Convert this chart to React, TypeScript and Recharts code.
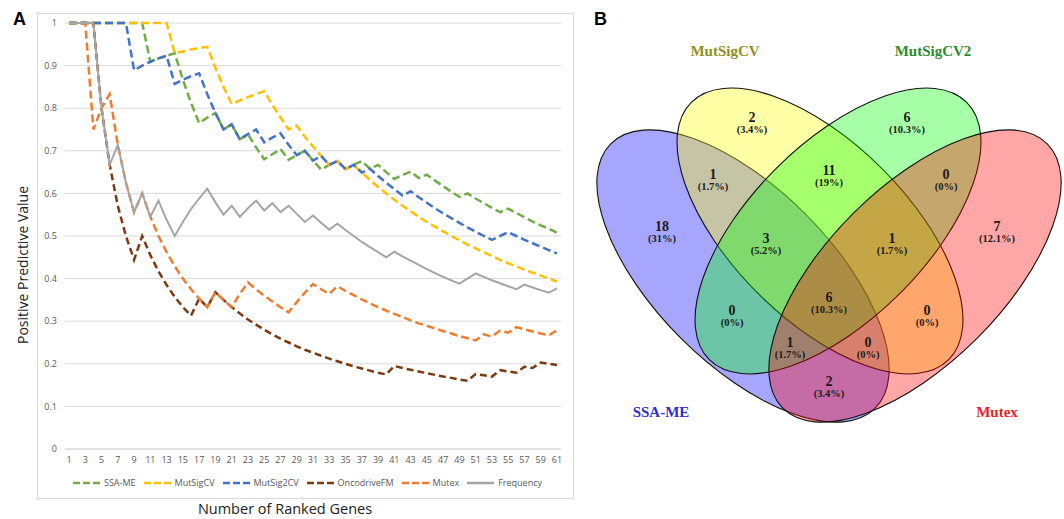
import React from 'react';
import { LineChart, Line, XAxis, YAxis, CartesianGrid, Legend, ScatterChart, Scatter } from 'recharts';

// ---------- Panel A data ----------
const ranks = [1,2,3,4,5,6,7,8,9,10,11,12,13,14,15,16,17,18,19,20,21,22,23,24,25,26,27,28,29,30,31,32,33,34,35,36,37,38,39,40,41,42,43,44,45,46,47,48,49,50,51,52,53,54,55,56,57,58,59,60,61];

const ssaMe = [1,1,1,1,1,1,1,1,1,1,0.909,0.917,0.923,0.929,0.867,0.813,0.765,0.778,0.789,0.75,0.762,0.727,0.739,0.708,0.68,0.692,0.704,0.679,0.69,0.7,0.677,0.656,0.667,0.676,0.657,0.667,0.676,0.658,0.667,0.65,0.634,0.643,0.651,0.636,0.644,0.63,0.617,0.604,0.592,0.6,0.588,0.577,0.566,0.556,0.564,0.554,0.544,0.534,0.525,0.517,0.508];

const mutSigCV = [1,1,1,1,1,1,1,1,1,1,1,1,1,0.929,0.933,0.938,0.941,0.944,0.895,0.85,0.81,0.818,0.826,0.833,0.84,0.808,0.778,0.75,0.759,0.733,0.71,0.688,0.667,0.676,0.657,0.667,0.649,0.632,0.615,0.6,0.585,0.571,0.558,0.545,0.533,0.522,0.511,0.5,0.49,0.48,0.471,0.462,0.453,0.444,0.436,0.429,0.421,0.414,0.407,0.4,0.393];

const mutSig2CV = [1,1,1,1,1,1,1,1,0.889,0.9,0.909,0.917,0.923,0.857,0.867,0.875,0.882,0.833,0.789,0.75,0.762,0.727,0.739,0.75,0.72,0.731,0.741,0.714,0.69,0.7,0.677,0.688,0.667,0.676,0.657,0.667,0.649,0.658,0.641,0.625,0.61,0.595,0.605,0.591,0.578,0.565,0.553,0.542,0.531,0.52,0.51,0.5,0.491,0.5,0.509,0.5,0.491,0.483,0.475,0.467,0.459];

const oncodriveFM = [1,1,1,1,0.8,0.667,0.571,0.5,0.444,0.5,0.455,0.417,0.385,0.357,0.333,0.313,0.353,0.333,0.368,0.35,0.333,0.318,0.304,0.292,0.28,0.269,0.259,0.25,0.241,0.233,0.226,0.219,0.212,0.206,0.2,0.194,0.189,0.184,0.179,0.175,0.195,0.19,0.186,0.182,0.178,0.174,0.17,0.167,0.163,0.16,0.176,0.173,0.17,0.185,0.182,0.179,0.193,0.19,0.203,0.2,0.197];

const mutex = [1,1,1,0.75,0.8,0.833,0.714,0.625,0.556,0.6,0.545,0.5,0.462,0.429,0.4,0.375,0.353,0.333,0.368,0.35,0.333,0.364,0.391,0.375,0.36,0.346,0.333,0.321,0.345,0.367,0.387,0.375,0.364,0.382,0.371,0.361,0.351,0.342,0.333,0.325,0.317,0.31,0.302,0.295,0.289,0.283,0.277,0.271,0.265,0.26,0.255,0.269,0.264,0.278,0.273,0.286,0.281,0.276,0.271,0.267,0.279];

const frequency = [1,1,1,1,0.8,0.667,0.714,0.625,0.556,0.6,0.545,0.583,0.538,0.5,0.533,0.563,0.588,0.611,0.579,0.55,0.571,0.545,0.565,0.583,0.56,0.577,0.556,0.571,0.552,0.533,0.548,0.531,0.515,0.529,0.514,0.5,0.486,0.474,0.462,0.45,0.463,0.452,0.442,0.432,0.422,0.413,0.404,0.396,0.388,0.4,0.412,0.404,0.396,0.389,0.382,0.375,0.386,0.379,0.373,0.367,0.377];

const yTicks = [0, 0.1, 0.2, 0.3, 0.4, 0.5, 0.6, 0.7, 0.8, 0.9, 1];
const seriesNames = ['SSA-ME', 'MutSigCV', 'MutSig2CV', 'OncodriveFM', 'Mutex', 'Frequency'];
const seriesKeys = ['ssaMe', 'mutSigCV', 'mutSig2CV', 'oncodriveFM', 'mutex', 'frequency'];
const seriesColors = ['#70AD47', '#FFC000', '#4472C4', '#7B3A12', '#ED7D31', '#A5A5A5'];
const seriesDash = ['8 4', '8 4', '8 4', '7 4', '8 4', undefined];
const seriesWidth = [2.5, 2.5, 2.5, 2.5, 2.5, 2];

const xTitle = 'Number of Ranked Genes';
const yTitle = 'Positive Predictive Value';

const lineRows = ranks.map((r, i) => ({
  rank: r,
  ssaMe: ssaMe[i],
  mutSigCV: mutSigCV[i],
  mutSig2CV: mutSig2CV[i],
  oncodriveFM: oncodriveFM[i],
  mutex: mutex[i],
  frequency: frequency[i],
}));

// ---------- Panel B data ----------
const vennSetNames = ['SSA-ME', 'MutSigCV', 'MutSigCV2', 'Mutex'];
const vennRegionCounts = [18, 2, 6, 7, 1, 11, 0, 0, 0, 2, 3, 1, 1, 0, 6];
const vennRegionPercents = ['31%', '3.4%', '10.3%', '12.1%', '1.7%', '19%', '0%', '0%', '0%', '3.4%', '5.2%', '1.7%', '1.7%', '0%', '10.3%'];

// layout (panel coordinates)
const vennEllipseLayout = [
  { x: 163, y: 276, rx: 187, ry: 88, angle: 45, fill: '#0000ff' },
  { x: 240, y: 231, rx: 182, ry: 88, angle: 45, fill: '#ffff00' },
  { x: 258, y: 231, rx: 182, ry: 88, angle: -45, fill: '#00ff00' },
  { x: 335, y: 276, rx: 187, ry: 88, angle: -45, fill: '#ff0000' },
];
const vennSetLabelLayout = [
  { x: 81, y: 412, color: '#2f2fc8' },
  { x: 145, y: 51, color: '#8f8f1f' },
  { x: 353, y: 51, color: '#2e8b2e' },
  { x: 417, y: 412, color: '#e52525' },
];
const vennRegionLayout = [
  [82, 226], [172, 117], [327, 117], [417, 226],
  [133, 174], [249, 170], [366, 174],
  [152, 310], [347, 310], [249, 381],
  [186, 238], [312, 238], [210, 342], [288, 342],
  [249, 297],
];

const ellipseData = vennEllipseLayout.map((e, i) => ({ ...e, name: vennSetNames[i] }));
const setLabelData = vennSetLabelLayout.map((l, i) => ({ ...l, name: vennSetNames[i] }));
const regionData = vennRegionLayout.map((p, i) => ({
  x: p[0],
  y: p[1],
  count: vennRegionCounts[i],
  pct: vennRegionPercents[i],
}));

const renderLegend = () => (
  <div
    style={{
      display: 'flex',
      justifyContent: 'center',
      alignItems: 'center',
      gap: 8,
      fontFamily: 'Open Sans',
      fontSize: 9,
      color: '#595959',
      whiteSpace: 'nowrap',
    }}
  >
    {seriesNames.map((n, i) => (
      <div key={n} style={{ display: 'flex', alignItems: 'center' }}>
        <svg width={27} height={6} style={{ display: 'block' }}>
          <line x1={0} y1={3} x2={27} y2={3} stroke={seriesColors[i]} strokeWidth={2.5} strokeDasharray={seriesDash[i] ? '7 3' : undefined} />
        </svg>
        <span style={{ marginLeft: 4 }}>{n}</span>
      </div>
    ))}
  </div>
);

const EllipseShape = (props: any) => {
  const { cx, cy, payload } = props;
  return (
    <ellipse
      cx={cx}
      cy={cy}
      rx={payload.rx}
      ry={payload.ry}
      transform={`rotate(${payload.angle} ${cx} ${cy})`}
      fill={payload.fill}
      fillOpacity={0.35}
      stroke="#111"
      strokeWidth={1.1}
    />
  );
};

const RegionLabel = (props: any) => {
  const { cx, cy, payload } = props;
  return (
    <g>
      <text x={cx} y={cy} textAnchor="middle" dominantBaseline="central" fontFamily="Liberation Serif" fontWeight="bold" fontSize={14} fill="#1a1a1a">
        {payload.count}
      </text>
      <text x={cx} y={cy + 12.5} textAnchor="middle" dominantBaseline="central" fontFamily="Liberation Serif" fontWeight="bold" fontSize={10.5} fill="#1a1a1a">
        ({payload.pct})
      </text>
    </g>
  );
};

const SetLabel = (props: any) => {
  const { cx, cy, payload } = props;
  return (
    <text x={cx} y={cy} textAnchor="middle" dominantBaseline="central" fontFamily="Liberation Serif" fontWeight="bold" fontSize={15} fill={payload.color}>
      {payload.name}
    </text>
  );
};

export default function App() {
  return (
    <div style={{ position: 'absolute', left: 0, top: 0, width: 1064, height: 519, background: '#fff', overflow: 'hidden' }}>
      {/* Panel A frame */}
      <div style={{ position: 'absolute', left: 37, top: 13, width: 535, height: 484, border: '1px solid #d9d9d9' }} />
      <div style={{ position: 'absolute', left: 13, top: 9, fontFamily: 'Liberation Sans', fontWeight: 'bold', fontSize: 18, color: '#000' }}>A</div>
      <div style={{ position: 'absolute', left: 0, top: 0 }}>
        <LineChart width={590} height={519} data={lineRows} margin={{ top: 23, right: 29, bottom: 40, left: 0 }}>
          <CartesianGrid vertical={false} stroke="#d9d9d9" />
          <XAxis
            dataKey="rank"
            height={30}
            interval={1}
            padding={{ left: 4, right: 4 }}
            tickLine={false}
            axisLine={{ stroke: '#d9d9d9' }}
            tick={{ fontSize: 9, fill: '#595959', fontFamily: 'Open Sans' }}
          />
          <YAxis
            width={65}
            domain={[0, 1]}
            ticks={yTicks}
            interval={0}
            tickLine={false}
            axisLine={false}
            tickFormatter={(v: number) => String(v)}
            tick={{ fontSize: 9, fill: '#595959', fontFamily: 'Open Sans' }}
          />
          {seriesKeys.map((k, i) => (
            <Line
              key={k}
              type="linear"
              dataKey={k}
              name={seriesNames[i]}
              stroke={seriesColors[i]}
              strokeWidth={seriesWidth[i]}
              strokeDasharray={seriesDash[i]}
              dot={false}
              activeDot={false}
              isAnimationActive={false}
            />
          ))}
          <Legend
            layout="horizontal"
            verticalAlign="middle"
            align="center"
            content={renderLegend}
            wrapperStyle={{ top: 476, left: 40, width: 535, height: 14 }}
          />
        </LineChart>
      </div>
      <div style={{ position: 'absolute', left: 285, top: 509, transform: 'translate(-50%, -50%)', fontFamily: 'Open Sans', fontSize: 14.5, lineHeight: '18px', color: '#222', whiteSpace: 'nowrap' }}>
        {xTitle}
      </div>
      <div style={{ position: 'absolute', left: 22, top: 265, transform: 'translate(-50%, -50%) rotate(-90deg)', fontFamily: 'Open Sans', fontSize: 14, color: '#222', whiteSpace: 'nowrap' }}>
        {yTitle}
      </div>

      {/* Panel B */}
      <div style={{ position: 'absolute', left: 594, top: 9, fontFamily: 'Liberation Sans', fontWeight: 'bold', fontSize: 18, color: '#000' }}>B</div>
      <div style={{ position: 'absolute', left: 580, top: 0 }}>
        <ScatterChart width={484} height={519} margin={{ top: 0, right: 0, bottom: 0, left: 0 }}>
          <XAxis type="number" dataKey="x" domain={[0, 484]} hide />
          <YAxis type="number" dataKey="y" domain={[0, 519]} reversed hide />
          <Scatter data={ellipseData} shape={EllipseShape} isAnimationActive={false} />
          <Scatter data={regionData} shape={RegionLabel} isAnimationActive={false} />
          <Scatter data={setLabelData} shape={SetLabel} isAnimationActive={false} />
        </ScatterChart>
      </div>
    </div>
  );
}
